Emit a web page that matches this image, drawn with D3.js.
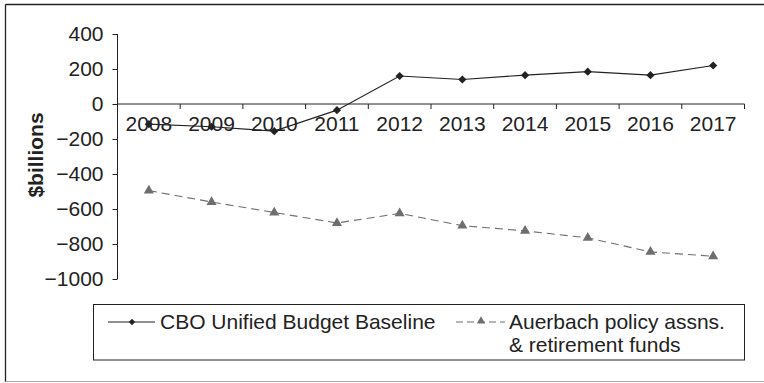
<!DOCTYPE html>
<html>
<head>
<meta charset="utf-8">
<script src="https://cdn.jsdelivr.net/npm/d3@7"></script>
<style>
  html, body { margin: 0; padding: 0; background: #fff; }
  svg { display: block; font-family: "Liberation Sans", Arial, Helvetica, sans-serif; }
</style>
</head>
<body>
<svg id="chart" width="764" height="383"></svg>
<script>
// Fiscal years on the horizontal axis
const years = ["2008", "2009", "2010", "2011", "2012", "2013", "2014", "2015", "2016", "2017"];
// CBO unified budget baseline, $billions
const cboBaseline = [-115, -130, -155, -35, 160, 140, 165, 185, 165, 220];
// Auerbach policy assumptions & retirement funds, $billions
const auerbach = [-495, -560, -620, -680, -625, -695, -725, -765, -845, -870];
// Vertical axis ticks
const yTicks = [400, 200, 0, -200, -400, -600, -800, -1000];
const seriesNames = ["CBO Unified Budget Baseline", "Auerbach policy assns.", "& retirement funds"];

const svg = d3.select("#chart");
const ink = "#222";
const grey = "#6e6e6e";
const fs = 21;

// Outer frame
svg.append("line").attr("x1", 5.5).attr("x2", 764).attr("y1", 4.5).attr("y2", 4.5).attr("stroke", ink).attr("stroke-width", 1.3);
svg.append("line").attr("x1", 5.5).attr("x2", 5.5).attr("y1", 4.5).attr("y2", 382).attr("stroke", ink).attr("stroke-width", 1.3);
svg.append("line").attr("x1", 5.5).attr("x2", 764).attr("y1", 381.5).attr("y2", 381.5).attr("stroke", "#aaa").attr("stroke-width", 1);

const x = d3.scaleBand().domain(years).range([117.5, 744.5]);
const y = d3.scaleLinear().domain([-1000, 400]).range([279, 34]);

// Y axis
const yAxis = svg.append("g")
  .attr("transform", "translate(117.5,0)")
  .call(d3.axisLeft(y).tickValues(yTicks).tickSize(5).tickPadding(9)
    .tickFormat(d => d < 0 ? "\u2212" + Math.abs(d) : String(d)));
yAxis.select(".domain").attr("stroke", ink).attr("d", `M-0,${y(400)}V${y(-1000)}`);
yAxis.selectAll(".tick line").attr("stroke", ink);
yAxis.selectAll(".tick text").attr("fill", ink).attr("font-size", fs).attr("font-family", null);

// X axis at zero
const xAxis = svg.append("g")
  .attr("transform", `translate(0,${y(0)})`)
  .call(d3.axisBottom(x).tickSize(0).tickPadding(12));
xAxis.select(".domain").attr("stroke", ink).attr("d", `M117.5,0H744.5`);
xAxis.selectAll(".tick text").attr("fill", ink).attr("font-size", fs).attr("font-family", null);
// Tick marks on band boundaries
xAxis.selectAll(".bound").data(years).enter().append("line")
  .attr("class", "bound")
  .attr("x1", (d, i) => x.range()[0] + x.step() * (i + 1))
  .attr("x2", (d, i) => x.range()[0] + x.step() * (i + 1))
  .attr("y1", 0).attr("y2", 5).attr("stroke", ink);

// Axis title
svg.append("text")
  .attr("transform", "translate(43,155) rotate(-90)")
  .attr("text-anchor", "middle")
  .attr("font-size", fs).attr("font-weight", "bold").attr("fill", ink)
  .text("$billions");

const cx = (d, i) => x(years[i]) + x.bandwidth() / 2;
const line = d3.line().x(cx).y(d => y(d));

// Auerbach series (dashed, triangles)
svg.append("path").datum(auerbach)
  .attr("d", line).attr("fill", "none").attr("stroke", grey)
  .attr("stroke-width", 1.1).attr("stroke-dasharray", "8,5");
const tri = d3.symbol().type(d3.symbolTriangle).size(44);
svg.selectAll(".tri").data(auerbach).enter().append("path")
  .attr("class", "tri").attr("d", tri)
  .attr("transform", (d, i) => `translate(${cx(d, i)},${y(d)})`)
  .attr("fill", grey);

// CBO series (solid, diamonds = squares turned 45°)
svg.append("path").datum(cboBaseline)
  .attr("d", line).attr("fill", "none").attr("stroke", ink).attr("stroke-width", 1.1);
const dia = d3.symbol().type(d3.symbolSquare).size(34);
svg.selectAll(".dia").data(cboBaseline).enter().append("path")
  .attr("class", "dia").attr("d", dia)
  .attr("transform", (d, i) => `translate(${cx(d, i)},${y(d)}) rotate(45)`)
  .attr("fill", ink);

// Legend
const lg = svg.append("g");
lg.append("rect").attr("x", 93.5).attr("y", 304.5).attr("width", 651).attr("height", 55.5)
  .attr("fill", "#fff").attr("stroke", ink).attr("stroke-width", 1);
lg.append("line").attr("x1", 108).attr("x2", 155).attr("y1", 322).attr("y2", 322).attr("stroke", ink).attr("stroke-width", 1.1);
lg.append("path").attr("d", d3.symbol().type(d3.symbolSquare).size(20)).attr("transform", "translate(132,322) rotate(45)").attr("fill", ink);
lg.append("text").attr("x", 160).attr("y", 329).attr("font-size", fs).attr("fill", ink).text(seriesNames[0]);
lg.append("line").attr("x1", 456).attr("x2", 505).attr("y1", 322).attr("y2", 322)
  .attr("stroke", grey).attr("stroke-width", 1.1).attr("stroke-dasharray", "7,4");
lg.append("path").attr("d", d3.symbol().type(d3.symbolTriangle).size(30)).attr("transform", "translate(481,321)").attr("fill", grey);
lg.append("text").attr("x", 509).attr("y", 329).attr("font-size", fs).attr("fill", ink).text(seriesNames[1]);
lg.append("text").attr("x", 509).attr("y", 352).attr("font-size", fs).attr("fill", ink).text(seriesNames[2]);
</script>
</body>
</html>
